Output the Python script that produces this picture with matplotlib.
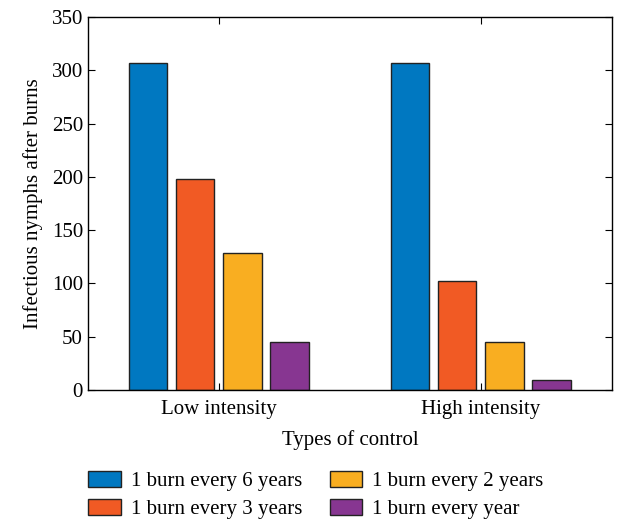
import matplotlib
matplotlib.use("Agg")
import matplotlib.pyplot as plt
import numpy as np

categories = ["Low intensity", "High intensity"]
series_names = ["1 burn every 6 years", "1 burn every 3 years",
                "1 burn every 2 years", "1 burn every year"]
every_6_years = [307, 307]
every_3_years = [198, 102]
every_2_years = [129, 45]
every_year = [45, 9]
colors = ["#0078C1", "#F15A24", "#F9AE21", "#873691"]

plt.rcParams['font.family'] = ['Liberation Serif', 'DejaVu Serif']
fs = 15

fig = plt.figure(figsize=(6.23, 5.22), dpi=100)
ax = fig.add_axes([0.141, 0.253, 0.841, 0.714])

x = np.arange(1, len(categories) + 1)
width = 0.146
step = 0.18
all_series = [every_6_years, every_3_years, every_2_years, every_year]
handles = []
for i, (vals, name, c) in enumerate(zip(all_series, series_names, colors)):
    offs = (i - 1.5) * step
    b = ax.bar(x + offs, vals, width, color=c, edgecolor="#222222",
               linewidth=1.0, label=name)
    handles.append(b)

ax.set_xlim(0.5, 2.5)
ax.set_ylim(0, 350)
ax.set_yticks(np.arange(0, 351, 50))
ax.set_xticks(x)
ax.set_xticklabels(categories)
ax.tick_params(direction="in", top=True, right=True, labelsize=fs, length=5,
               width=0.8)
ax.tick_params(axis="x", pad=7)
for s in ax.spines.values():
    s.set_linewidth(1.0)
ax.set_xlabel("Types of control", fontsize=fs, labelpad=8)
ax.set_ylabel("Infectious nymphs after burns", fontsize=fs, labelpad=6)

fig.legend(handles=handles, labels=series_names, ncol=2, frameon=False,
           loc="upper left", bbox_to_anchor=(0.142, 0.098), fontsize=fs,
           handlelength=1.55, handleheight=0.85, handletextpad=0.5,
           columnspacing=1.3, labelspacing=0.35, borderaxespad=0, borderpad=0)

fig.savefig("out.png", dpi=100)
